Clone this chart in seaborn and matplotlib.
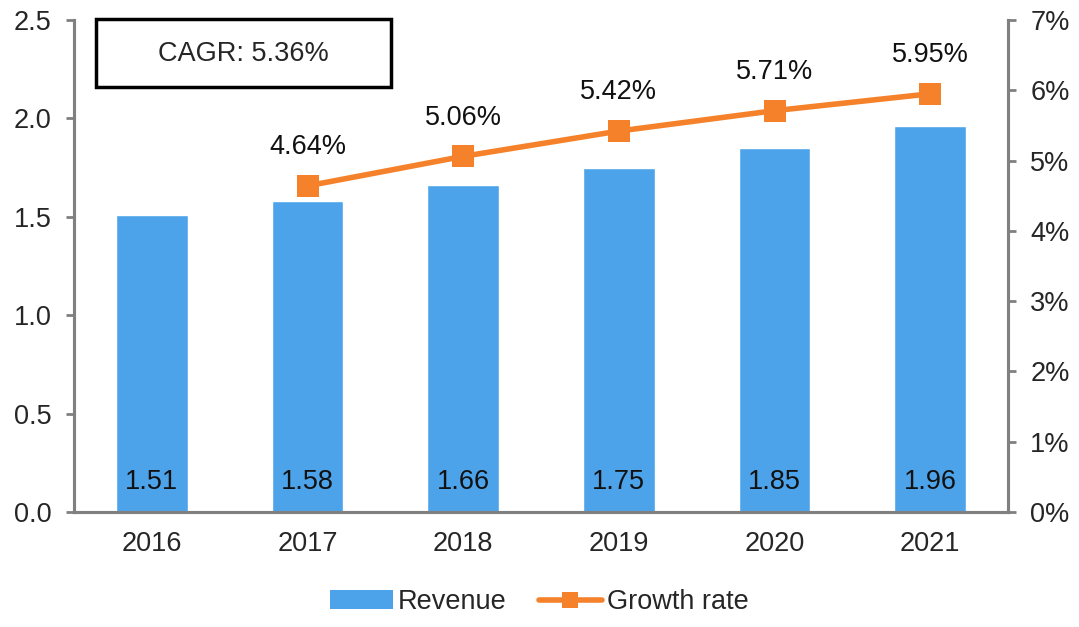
import matplotlib
matplotlib.use('Agg')
import matplotlib.pyplot as plt
import seaborn as sns
import pandas as pd
from matplotlib.patches import Rectangle, Patch
from matplotlib.lines import Line2D
from matplotlib.ticker import FuncFormatter, MultipleLocator

# data
years = ['2016', '2017', '2018', '2019', '2020', '2021']
revenue = [1.51, 1.58, 1.66, 1.75, 1.85, 1.96]
growth_years = ['2017', '2018', '2019', '2020', '2021']
growth = [4.64, 5.06, 5.42, 5.71, 5.95]
cagr_text = 'CAGR: 5.36%'

blue = '#4DA3EA'
orange = '#F5822A'
grey = '#808080'
fs = 19.5

sns.set_style('white')
plt.rcParams['font.family'] = ['Liberation Sans', 'DejaVu Sans']

df = pd.DataFrame({'Year': years, 'Revenue': revenue})
dg = pd.DataFrame({'Year': growth_years, 'Growth': growth})
dg['x'] = [years.index(y) for y in growth_years]

fig = plt.figure(figsize=(10.79, 6.27), dpi=100)
ax = fig.add_axes([74/1079, 1-512/627, (1008-74)/1079, (512-20)/627])

sns.barplot(data=df, x='Year', y='Revenue', color=blue, width=0.46, ax=ax,
            saturation=1)
ax.set_xlim(-0.5, 5.5)
ax.set_ylim(0, 2.5)
ax.yaxis.set_major_locator(MultipleLocator(0.5))
ax.yaxis.set_major_formatter(FuncFormatter(lambda v, p: f'{v:.1f}'))
ax.set_xlabel('')
ax.set_ylabel('')

for i, v in enumerate(revenue):
    ax.text(i, 0.15, f'{v:.2f}', ha='center', va='center', fontsize=fs, color='#111111')

ax2 = ax.twinx()
sns.lineplot(data=dg, x='x', y='Growth', color=orange, linewidth=4, marker='s',
             markersize=16, markeredgewidth=0, ax=ax2)
ax2.set_ylim(0, 7)
ax2.set_xlim(-0.5, 5.5)
ax2.yaxis.set_major_locator(MultipleLocator(1))
ax2.yaxis.set_major_formatter(FuncFormatter(lambda v, p: f'{v:.0f}%'))
ax2.set_ylabel('')
ax2.set_xlabel('')
for xi, g in zip(dg['x'], growth):
    ax2.text(xi, g + 0.55, f'{g:.2f}%', ha='center', va='center', fontsize=fs, color='#111111')

# x ticks at category boundaries
ax.set_xticks(range(len(years)))
ax.set_xticklabels(years)
ax.set_xticks([i - 0.5 for i in range(len(years) + 1)], minor=True)
ax.tick_params(axis='x', which='major', length=0, pad=14, labelsize=fs)
ax.tick_params(axis='x', which='minor', length=6, width=2, color=grey, direction='out')
ax.tick_params(axis='y', length=6, width=2, color=grey, direction='out', labelsize=fs, pad=10)
ax2.tick_params(axis='y', length=6, width=2, color=grey, direction='out', labelsize=fs, pad=10)

for a in (ax, ax2):
    a.spines['top'].set_visible(False)
    for s in ('left', 'right', 'bottom'):
        a.spines[s].set_color(grey)
        a.spines[s].set_linewidth(2.2)

# CAGR box
box = Rectangle((96/1079, 1-87/627), (391-96)/1079, (87-19)/627, transform=fig.transFigure,
                fill=True, facecolor='white', edgecolor='black', linewidth=2.5, zorder=5)
fig.patches.append(box)
fig.text((96+391)/2/1079, 1-54/627, cagr_text, ha='center', va='center', fontsize=fs, zorder=6)

# legend
handles = [Patch(facecolor=blue, edgecolor='none'),
           Line2D([0], [0], color=orange, linewidth=4, marker='s', markersize=12, markeredgewidth=0)]
fig.legend(handles, ['Revenue', 'Growth rate'], loc='center', bbox_to_anchor=(0.5, 1-602/627),
           ncol=2, frameon=False, fontsize=fs, handlelength=2.3, handletextpad=0.2, columnspacing=1.2)

fig.savefig('out.png', dpi=100)
